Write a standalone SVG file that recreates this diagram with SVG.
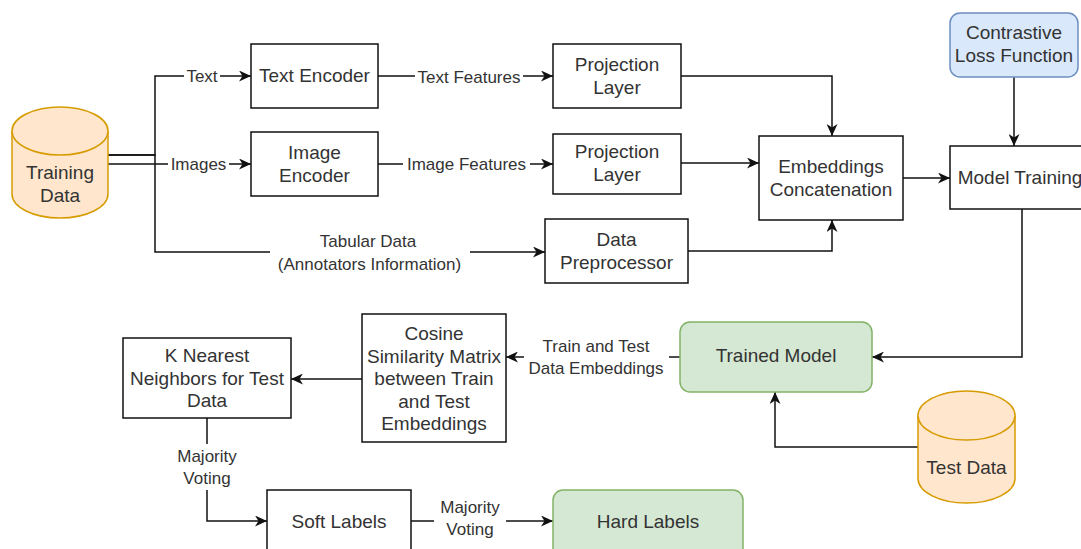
<svg xmlns="http://www.w3.org/2000/svg" width="1081" height="549" viewBox="0 0 1081 549">
  <defs>
    <marker id="arrow" markerUnits="userSpaceOnUse" markerWidth="13" markerHeight="11" refX="12" refY="5.5" orient="auto">
      <path d="M0,0 L12,5.5 L0,11 L3.5,5.5 Z" fill="#111"/>
    </marker>
    <style>
      .box { fill: #ffffff; stroke: #111; stroke-width: 1.5; }
      .green { fill: #d5e8d4; stroke: #82b366; stroke-width: 1.5; }
      .blue { fill: #dae8fc; stroke: #6c8ebf; stroke-width: 1.5; }
      .db { fill: #ffe6cc; stroke: #d79b00; stroke-width: 1.5; }
      .edge { fill: none; stroke: #111; stroke-width: 1.5; }
      .arr { marker-end: url(#arrow); }
      text { font-family: "Liberation Sans", Arial, sans-serif; fill: #333; }
      .t { font-size: 19px; text-anchor: middle; }
      .lbl { font-size: 17px; text-anchor: middle; }
      .lblbg { fill: #ffffff; }
    </style>
  </defs>

  <rect width="1081" height="549" fill="#ffffff"/>

  <!-- connectors -->
  <g id="connectors">
    <path class="edge arr" d="M108,155 H155 V76 H251"/>
    <path class="edge arr" d="M108,164 H251"/>
    <path class="edge arr" d="M108,155 H155 V252 H545"/>
    <path class="edge arr" d="M378,76 H553"/>
    <path class="edge arr" d="M378,164 H553"/>
    <path class="edge arr" d="M681,76 H832 V136"/>
    <path class="edge arr" d="M681,163 H759"/>
    <path class="edge arr" d="M688,251 H832 V220"/>
    <path class="edge arr" d="M903,178 H950"/>
    <path class="edge arr" d="M1014,77 V146"/>
    <path class="edge arr" d="M1022,209 V357 H872"/>
    <path class="edge arr" d="M918,447 H775 V392"/>
    <path class="edge arr" d="M680,357 H506"/>
    <path class="edge arr" d="M362,379 H291"/>
    <path class="edge arr" d="M207,418 V521 H267"/>
    <path class="edge arr" d="M411,521 H553"/>

    <!-- edge labels -->
    <rect class="lblbg" x="184" y="66" width="36" height="20"/>
    <text class="lbl" x="202" y="82">Text</text>
    <rect class="lblbg" x="168" y="154" width="61" height="20"/>
    <text class="lbl" x="198.5" y="170">Images</text>
    <rect class="lblbg" x="270" y="230" width="200" height="46"/>
    <text class="lbl" x="368" y="247">Tabular Data</text>
    <text class="lbl" x="369.5" y="270">(Annotators Information)</text>
    <rect class="lblbg" x="415" y="67" width="108" height="20"/>
    <text class="lbl" x="469" y="83">Text Features</text>
    <rect class="lblbg" x="403" y="154" width="127" height="20"/>
    <text class="lbl" x="466.5" y="170">Image Features</text>
    <rect class="lblbg" x="524" y="335" width="145" height="46"/>
    <text class="lbl" x="596" y="352">Train and Test</text>
    <text class="lbl" x="596" y="374">Data Embeddings</text>
    <rect class="lblbg" x="171" y="444" width="72" height="46"/>
    <text class="lbl" x="207" y="462">Majority</text>
    <text class="lbl" x="207" y="484">Voting</text>
    <rect class="lblbg" x="434" y="495" width="72" height="46"/>
    <text class="lbl" x="470" y="513">Majority</text>
    <text class="lbl" x="470" y="535">Voting</text>
  </g>

  <!-- nodes -->
  <g id="training-data">
    <path class="db" d="M12,131 A48,24 0 0,1 108,131 V194 A48,24 0 0,1 12,194 Z"/>
    <path class="db" d="M12,131 A48,24 0 0,0 108,131" fill="none"/>
    <text class="t" x="60" y="178.5">Training</text>
    <text class="t" x="60" y="201.5">Data</text>
  </g>

  <g id="text-encoder">
    <rect class="box" x="251" y="44" width="127" height="64"/>
    <text class="t" x="314.5" y="82">Text Encoder</text>
  </g>

  <g id="image-encoder">
    <rect class="box" x="251" y="132" width="127" height="64"/>
    <text class="t" x="314.5" y="158.5">Image</text>
    <text class="t" x="314.5" y="181.5">Encoder</text>
  </g>

  <g id="projection-text">
    <rect class="box" x="553" y="44" width="128" height="64"/>
    <text class="t" x="617" y="70.5">Projection</text>
    <text class="t" x="617" y="93.5">Layer</text>
  </g>

  <g id="projection-image">
    <rect class="box" x="553" y="134" width="128" height="60"/>
    <text class="t" x="617" y="158">Projection</text>
    <text class="t" x="617" y="181">Layer</text>
  </g>

  <g id="data-preprocessor">
    <rect class="box" x="545" y="219" width="143" height="64"/>
    <text class="t" x="616.5" y="245.5">Data</text>
    <text class="t" x="616.5" y="268.5">Preprocessor</text>
  </g>

  <g id="embeddings-concatenation">
    <rect class="box" x="759" y="136" width="144" height="84"/>
    <text class="t" x="831" y="172.5">Embeddings</text>
    <text class="t" x="831" y="195.5">Concatenation</text>
  </g>

  <g id="contrastive-loss">
    <rect class="blue" x="950" y="13" width="128" height="64" rx="10" ry="10"/>
    <text class="t" x="1014" y="38.5">Contrastive</text>
    <text class="t" x="1014" y="61.5">Loss Function</text>
  </g>

  <g id="model-training">
    <rect class="box" x="950" y="146" width="140" height="63"/>
    <text class="t" x="1020" y="184">Model Training</text>
  </g>

  <g id="trained-model">
    <rect class="green" x="680" y="322" width="192" height="70" rx="10" ry="10"/>
    <text class="t" x="776" y="361.5">Trained Model</text>
  </g>

  <g id="test-data">
    <path class="db" d="M918,415.5 A48.5,24.5 0 0,1 1015,415.5 V478.5 A48.5,24.5 0 0,1 918,478.5 Z"/>
    <path class="db" d="M918,415.5 A48.5,24.5 0 0,0 1015,415.5" fill="none"/>
    <text class="t" x="966.5" y="473.5">Test Data</text>
  </g>

  <g id="cosine-similarity">
    <rect class="box" x="362" y="314" width="144" height="128"/>
    <text class="t" x="434" y="340">Cosine</text>
    <text class="t" x="434" y="362.5">Similarity Matrix</text>
    <text class="t" x="434" y="385">between Train</text>
    <text class="t" x="434" y="407.5">and Test</text>
    <text class="t" x="434" y="430">Embeddings</text>
  </g>

  <g id="knn">
    <rect class="box" x="123" y="338" width="168" height="80"/>
    <text class="t" x="207" y="362">K Nearest</text>
    <text class="t" x="207" y="384.5">Neighbors for Test</text>
    <text class="t" x="207" y="407">Data</text>
  </g>

  <g id="soft-labels">
    <rect class="box" x="267" y="490" width="144" height="70"/>
    <text class="t" x="339" y="527.5">Soft Labels</text>
  </g>

  <g id="hard-labels">
    <rect class="green" x="553" y="490" width="190" height="70" rx="10" ry="10"/>
    <text class="t" x="648" y="527.5">Hard Labels</text>
  </g>
</svg>
